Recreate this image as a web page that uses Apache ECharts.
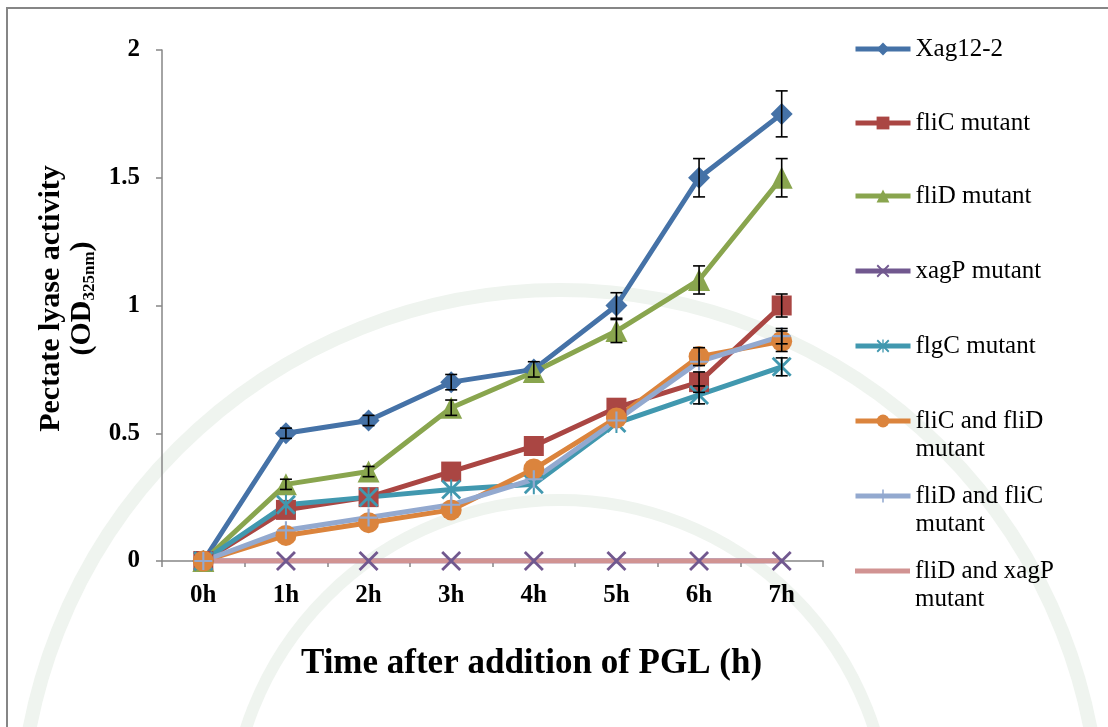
<!DOCTYPE html>
<html>
<head>
<meta charset="utf-8">
<script src="https://cdn.jsdelivr.net/npm/echarts@6/dist/echarts.min.js"></script>
<style>
  html, body { margin: 0; padding: 0; background: #fff; }
  #chart { width: 1108px; height: 727px; }
</style>
</head>
<body>
<div id="chart"></div>
<script>
// time points
const hours = ['0h', '1h', '2h', '3h', '4h', '5h', '6h', '7h'];

// pectate lyase activity (OD325nm)
const xag12 = [0, 0.50, 0.55, 0.70, 0.75, 1.00, 1.50, 1.75];
const fliC = [0, 0.20, 0.25, 0.35, 0.45, 0.60, 0.70, 1.00];
const fliD = [0, 0.30, 0.35, 0.60, 0.74, 0.90, 1.10, 1.50];
const xagP = [0, 0, 0, 0, 0, 0, 0, 0];
const flgC = [0, 0.22, 0.25, 0.28, 0.30, 0.54, 0.65, 0.76];
const fliCfliD = [0, 0.10, 0.15, 0.20, 0.36, 0.56, 0.80, 0.86];
const fliDfliC = [0, 0.12, 0.17, 0.22, 0.32, 0.55, 0.78, 0.88];
const fliDxagP = [0, 0, 0, 0, 0, 0, 0, 0];

// error bars (+/-), 0 where hidden by the marker
const xag12Err = [0, 0.02, 0.02, 0.03, 0.03, 0.05, 0.075, 0.09];
const fliCErr = [0, 0, 0, 0, 0, 0, 0.04, 0.045];
const fliDErr = [0, 0.02, 0.02, 0.03, 0, 0.045, 0.055, 0.075];
const flgCErr = [0, 0, 0, 0, 0, 0, 0.035, 0.035];
const fliCfliDErr = [0, 0, 0, 0, 0, 0, 0.035, 0.04];
const fliDfliCErr = [0, 0, 0, 0, 0, 0, 0, 0.03];

const serif = '"Liberation Serif", "Times New Roman", serif';
const axisGray = '#868686';

const symX = 'path://M0,1L1,0L10,9L9,10Z M9,0L10,1L1,10L0,9Z';
const symStar = 'path://M0,1L1,0L10,9L9,10Z M9,0L10,1L1,10L0,9Z M4.5,0H5.5V10H4.5Z';
const symPlus = 'path://M4.4,0H5.6V10H4.4Z M0,4.4H10V5.6H0Z';

const lines = [
  {name: 'Xag12-2', data: xag12, err: xag12Err, color: '#4572A7', symbol: 'diamond', size: 22},
  {name: 'fliC mutant', data: fliC, err: fliCErr, color: '#AA4643', symbol: 'rect', size: 20},
  {name: 'fliD mutant', data: fliD, err: fliDErr, color: '#89A54E', symbol: 'triangle', size: 22},
  {name: 'xagP mutant', data: xagP, err: null, color: '#71588F', symbol: symX, size: 20},
  {name: 'flgC mutant', data: flgC, err: flgCErr, color: '#4198AF', symbol: symStar, size: 20},
  {name: 'fliC and fliD mutant', data: fliCfliD, err: fliCfliDErr, color: '#DB843D', symbol: 'circle', size: 21},
  {name: 'fliD and fliC mutant', data: fliDfliC, err: fliDfliCErr, color: '#93A9CF', symbol: symPlus, size: 18},
  {name: 'fliD and xagP mutant', data: fliDxagP, err: null, color: '#D19392', symbol: 'none', size: 0}
];

const legendTops = [30, 104, 177, 252, 327, 374, 449, 524];

const series = [];
lines.forEach(s => {
  series.push({
    name: s.name,
    type: 'line',
    data: s.data,
    symbol: s.symbol,
    symbolSize: s.size,
    showSymbol: s.symbol !== 'none',
    lineStyle: {color: s.color, width: 5},
    itemStyle: {color: s.color, borderColor: s.color, borderWidth: 0},
    emphasis: {disabled: true}
  });
});
lines.forEach(s => {
  if (!s.err) return;
  series.push({
    type: 'custom',
    z: 5,
    data: s.data.map((v, i) => [i, v, s.err[i]]),
    renderItem: function (params, api) {
      const i = api.value(0), v = api.value(1), e = api.value(2);
      if (!e) return;
      const top = api.coord([i, v + e]);
      const bot = api.coord([i, v - e]);
      const w = 6;
      const st = {stroke: '#000', lineWidth: 1.6};
      return {
        type: 'group',
        children: [
          {type: 'line', shape: {x1: top[0], y1: top[1], x2: bot[0], y2: bot[1]}, style: st},
          {type: 'line', shape: {x1: top[0] - w, y1: top[1], x2: top[0] + w, y2: top[1]}, style: st},
          {type: 'line', shape: {x1: bot[0] - w, y1: bot[1], x2: bot[0] + w, y2: bot[1]}, style: st}
        ]
      };
    }
  });
});

const legends = lines.map((s, k) => {
  const twoLine = s.name.indexOf(' and ') > 0;
  return {
    data: [s.symbol === 'none' ? {name: s.name, icon: 'rect'} : s.name],
    orient: 'vertical',
    left: s.symbol === 'none' ? 850 : 848,
    top: legendTops[k],
    itemWidth: 55,
    itemHeight: s.symbol === 'none' ? 5 : 16,
    selectedMode: false,
    lineStyle: {width: 5},
    // blank first line keeps the icon level with the first line of text
    formatter: name => twoLine ? ' \n' + name.replace(' mutant', '\nmutant') : name,
    textStyle: {fontFamily: serif, fontSize: 25, color: '#000', lineHeight: 28}
  };
});

const option = {
  backgroundColor: '#fff',
  animation: false,
  graphic: [
    {type: 'circle', silent: true, z: -10, shape: {cx: 560, cy: 830, r: 540},
     style: {fill: 'none', stroke: '#eff4ef', lineWidth: 14}},
    {type: 'circle', silent: true, z: -10, shape: {cx: 560, cy: 830, r: 330},
     style: {fill: 'none', stroke: '#eff4ef', lineWidth: 12}},
    {type: 'rect', silent: true, z: 100, shape: {x: 7, y: 8, width: 1200, height: 800},
     style: {fill: 'none', stroke: axisGray, lineWidth: 2}}
  ],
  legend: legends,
  grid: {left: 162, right: 285, top: 50, bottom: 166},
  xAxis: {
    type: 'category',
    data: hours,
    boundaryGap: true,
    name: 'Time after addition of PGL (h)',
    nameLocation: 'middle',
    nameGap: 85,
    nameTextStyle: {fontFamily: serif, fontSize: 35, fontWeight: 'bold', color: '#000', padding: [0, 0, 0, 78]},
    axisLine: {lineStyle: {color: axisGray, width: 1.5}},
    axisTick: {show: true, length: 6, lineStyle: {color: axisGray, width: 1.5}},
    axisLabel: {margin: 22, fontFamily: serif, fontSize: 25, fontWeight: 'bold', color: '#000'}
  },
  yAxis: {
    type: 'value',
    min: 0,
    max: 2,
    interval: 0.5,
    name: '{t|Pectate lyase activity}\n{t|(OD}{s|325nm}{t|)}',
    nameLocation: 'middle',
    nameRotate: 90,
    nameGap: 51,
    nameTextStyle: {
      fontFamily: serif, fontSize: 30, fontWeight: 'bold', color: '#000',
      padding: [0, 0, 0, 14],
      rich: {
        t: {fontFamily: serif, fontSize: 30, fontWeight: 'bold', color: '#000', lineHeight: 31},
        s: {fontFamily: serif, fontSize: 17, fontWeight: 'bold', color: '#000', lineHeight: 31, verticalAlign: 'bottom'}
      }
    },
    splitLine: {show: false},
    axisLine: {show: true, lineStyle: {color: axisGray, width: 1.5}},
    axisTick: {show: true, length: 6, lineStyle: {color: axisGray, width: 1.5}},
    axisLabel: {margin: 22, fontFamily: serif, fontSize: 25, fontWeight: 'bold', color: '#000'}
  },
  series: series
};

const chart = echarts.init(document.getElementById('chart'));
chart.setOption(option);
</script>
</body>
</html>
